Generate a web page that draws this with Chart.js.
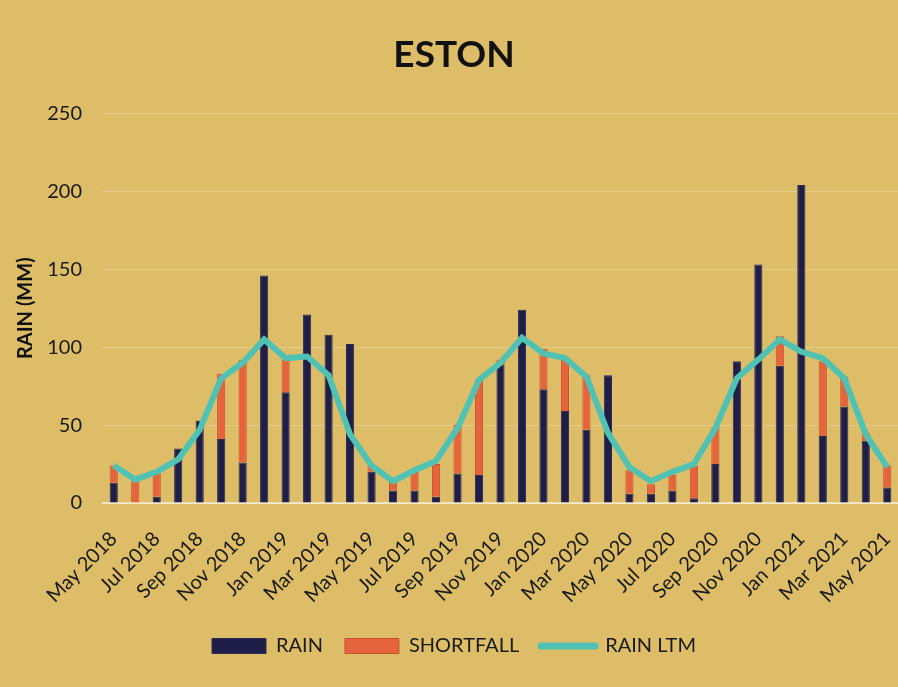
<!DOCTYPE html>
<html>
<head>
<meta charset="utf-8">
<script src="https://cdn.jsdelivr.net/npm/chart.js@4.4.0/dist/chart.umd.min.js"></script>
<style>
  html, body { margin: 0; padding: 0; background: #DDBD68; }
  #wrap { width: 898px; height: 687px; }
</style>
</head>
<body>
<div id="wrap"><canvas id="rainChart" width="898" height="687"></canvas></div>
<script>
// months shown on the x axis (every other one gets a label)
const months = [
    'May 2018', 'Jun 2018', 'Jul 2018', 'Aug 2018', 'Sep 2018', 'Oct 2018', 'Nov 2018', 'Dec 2018',
    'Jan 2019', 'Feb 2019', 'Mar 2019', 'Apr 2019', 'May 2019', 'Jun 2019', 'Jul 2019', 'Aug 2019',
    'Sep 2019', 'Oct 2019', 'Nov 2019', 'Dec 2019', 'Jan 2020', 'Feb 2020', 'Mar 2020', 'Apr 2020',
    'May 2020', 'Jun 2020', 'Jul 2020', 'Aug 2020', 'Sep 2020', 'Oct 2020', 'Nov 2020', 'Dec 2020',
    'Jan 2021', 'Feb 2021', 'Mar 2021', 'Apr 2021', 'May 2021'
];

const rain = [
    13, 0, 4, 35, 53, 41, 26, 146, 71, 121, 108, 102,
    20, 8, 8, 4, 19, 18, 89, 124, 73, 59, 47, 82,
    6, 6, 8, 3, 25, 91, 153, 88, 204, 43, 62, 40, 10
];

const shortfall = [
    11, 14, 15, 0, 0, 42, 66, 0, 21, 0, 0, 0,
    4, 6, 12, 21, 31, 61, 3, 0, 26, 34, 35, 0,
    15, 6, 10, 21, 24, 0, 0, 19, 0, 48, 19, 5, 14
];

const rainLtm = [
    24, 15, 20, 28, 47, 80, 90, 105, 93, 94, 82, 44,
    24, 14, 21, 27, 48, 79, 90, 106, 96, 93, 81, 45,
    23, 14, 20, 25, 48, 80, 92, 105, 97, 93, 80, 44, 23
];

const yTicks = [0, 50, 100, 150, 200, 250];

const FONT = 'Lato, "Open Sans", sans-serif';
const NAVY = '#1E1E48';
const SALMON = '#E5643B';
const TEAL = '#4FC2B4';

function drawChart() {
    const ctx = document.getElementById('rainChart');

    new Chart(ctx, {
        type: 'bar',
        data: {
            labels: months,
            datasets: [
                {
                    label: 'RAIN',
                    data: rain,
                    backgroundColor: NAVY,
                    borderColor: '#2c2c5a',
                    borderWidth: 1,
                    stack: 'rain',
                    order: 2,
                    barPercentage: 0.38,
                    categoryPercentage: 1.0
                },
                {
                    label: 'SHORTFALL',
                    data: shortfall,
                    backgroundColor: SALMON,
                    borderColor: '#c9532f',
                    borderWidth: 1,
                    stack: 'rain',
                    order: 2,
                    barPercentage: 0.38,
                    categoryPercentage: 1.0
                },
                {
                    type: 'line',
                    label: 'RAIN LTM',
                    data: rainLtm,
                    borderColor: TEAL,
                    backgroundColor: TEAL,
                    borderWidth: 6,
                    pointRadius: 0,
                    tension: 0,
                    stack: 'ltm',
                    order: 1
                }
            ]
        },
        options: {
            responsive: false,
            animation: false,
            layout: { padding: { left: 10, right: 0, top: 0, bottom: 21 } },
            plugins: {
                title: {
                    display: true,
                    text: 'ESTON',
                    color: '#111',
                    font: { family: FONT, size: 37, weight: 'bold' },
                    padding: { top: 33, bottom: 36 }
                },
                legend: {
                    position: 'bottom',
                    labels: {
                        color: '#1a1a1a',
                        font: { family: FONT, size: 20 },
                        usePointStyle: true,
                        pointStyleWidth: 54,
                        boxHeight: 15,
                        padding: 22,
                        sort: (a, b) => a.datasetIndex - b.datasetIndex,
                        generateLabels: (chart) => {
                            const items = Chart.defaults.plugins.legend.labels.generateLabels(chart);
                            items.forEach(item => {
                                if (item.datasetIndex === 2) {
                                    item.pointStyle = 'line';
                                    item.lineWidth = 7;
                                    item.strokeStyle = TEAL;
                                    item.lineCap = 'round';
                                } else {
                                    item.pointStyle = 'rect';
                                    item.lineWidth = 1;
                                }
                            });
                            return items;
                        }
                    }
                },
                tooltip: { enabled: false }
            },
            scales: {
                x: {
                    stacked: true,
                    grid: { display: false },
                    border: { display: true, color: 'rgba(255,255,255,0.55)', width: 2 },
                    ticks: {
                        autoSkip: false,
                        maxRotation: 45,
                        minRotation: 45,
                        padding: 16,
                        color: '#1a1a1a',
                        font: { family: FONT, size: 20 },
                        callback: function (value, index) {
                            return index % 2 === 0 ? this.getLabelForValue(value) : '';
                        }
                    },
                    afterFit: (scale) => {
                        scale.height = 111;
                        scale.paddingRight = 0;
                    }
                },
                y: {
                    stacked: true,
                    min: 0,
                    max: 250,
                    title: {
                        display: true,
                        text: 'RAIN (MM)',
                        color: '#111',
                        font: { family: FONT, size: 20, weight: 'bold' }
                    },
                    grid: { color: 'rgba(255,255,255,0.22)', lineWidth: 1, drawTicks: false },
                    border: { display: false },
                    afterBuildTicks: (scale) => {
                        scale.ticks = yTicks.map(v => ({ value: v }));
                    },
                    ticks: {
                        color: '#1a1a1a',
                        padding: 21,
                        font: { family: FONT, size: 20 }
                    },
                    afterFit: (scale) => { scale.width = 93; }
                }
            }
        }
    });
}

document.addEventListener('DOMContentLoaded', drawChart);
</script>
</body>
</html>
